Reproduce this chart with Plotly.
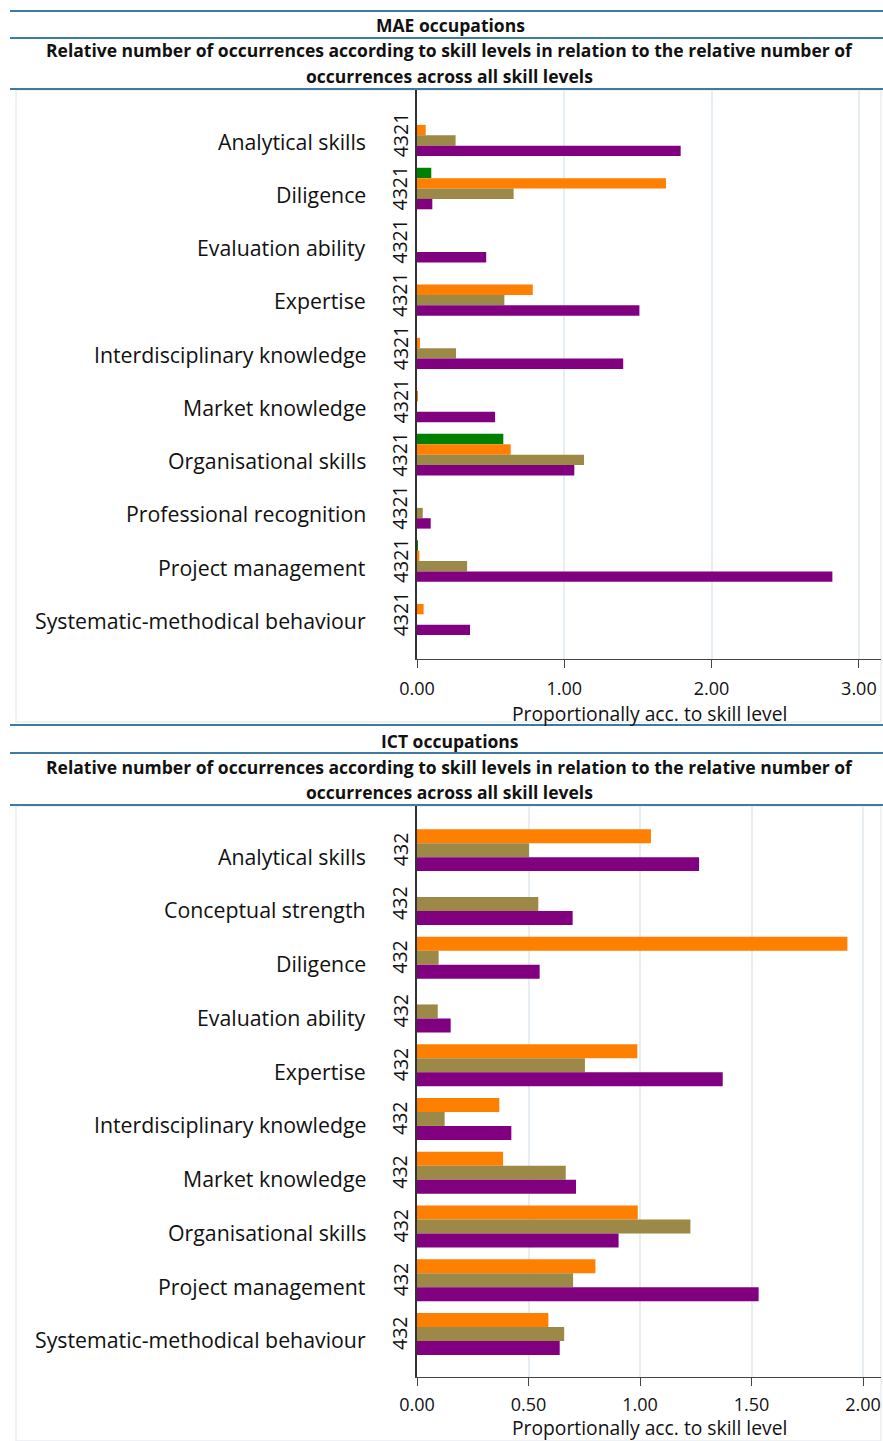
import plotly.graph_objects as go
from plotly.subplots import make_subplots

# ---- data -------------------------------------------------------------
mae_skills = [
    "Analytical skills", "Diligence", "Evaluation ability", "Expertise",
    "Interdisciplinary knowledge", "Market knowledge", "Organisational skills",
    "Professional recognition", "Project management",
    "Systematic-methodical behaviour",
]
mae_level1 = [0.0, 0.097, 0.0, 0.0, 0.0, 0.0, 0.586, 0.0, 0.005, 0.0]
mae_level2 = [0.059, 1.69, 0.0, 0.786, 0.02, 0.005, 0.636, 0.0, 0.016, 0.045]
mae_level3 = [0.262, 0.656, 0.0, 0.593, 0.265, 0.0, 1.134, 0.039, 0.34, 0.0]
mae_level4 = [1.79, 0.104, 0.47, 1.51, 1.40, 0.53, 1.068, 0.093, 2.82, 0.36]

ict_skills = [
    "Analytical skills", "Conceptual strength", "Diligence", "Evaluation ability",
    "Expertise", "Interdisciplinary knowledge", "Market knowledge",
    "Organisational skills", "Project management",
    "Systematic-methodical behaviour",
]
ict_level2 = [1.049, 0.0, 1.93, 0.0, 0.988, 0.369, 0.386, 0.99, 0.80, 0.589]
ict_level3 = [0.502, 0.544, 0.097, 0.093, 0.753, 0.124, 0.667, 1.226, 0.70, 0.66]
ict_level4 = [1.265, 0.698, 0.55, 0.151, 1.371, 0.423, 0.713, 0.904, 1.532, 0.64]

mae_ticks = [0, 1, 2, 3]
ict_ticks = [0, 0.5, 1, 1.5, 2]
x_title = "Proportionally acc. to skill level"

# ---- style ------------------------------------------------------------
W, H = 883, 1441
FONT = "Open Sans"
COL = {1: "#008000", 2: "#ff7f00", 3: "#9c8847", 4: "#800080"}
RULE = "#3f7aa0"
GRID = "#e6eef4"


def py(v):
    """pixel row -> paper y"""
    return 1 - v / H


def px(v):
    return v / W


fig = make_subplots(rows=2, cols=1)

for lvl, vals in [(1, mae_level1), (2, mae_level2), (3, mae_level3), (4, mae_level4)]:
    fig.add_trace(go.Bar(y=mae_skills, x=vals, orientation="h", name=str(lvl),
                         marker=dict(color=COL[lvl], line=dict(width=0)),
                         showlegend=False), row=1, col=1)
for lvl, vals in [(2, ict_level2), (3, ict_level3), (4, ict_level4)]:
    fig.add_trace(go.Bar(y=ict_skills, x=vals, orientation="h", name=str(lvl),
                         marker=dict(color=COL[lvl], line=dict(width=0)),
                         showlegend=False), row=2, col=1)

x_dom = [px(417), px(881)]
common_x = dict(showline=True, linecolor="#444", linewidth=1.3, ticks="outside",
                ticklen=8, tickcolor="#444", tickformat=".2f", showgrid=True,
                gridcolor=GRID, gridwidth=1.5, zeroline=False, automargin=False,
                tickfont=dict(family=FONT, size=18, color="#111"))
common_y = dict(showticklabels=False, showline=True, linecolor="#333", linewidth=1.5,
                ticks="", showgrid=False, zeroline=False, type="category",
                automargin=False)
fig.update_layout(
    autosize=False,
    xaxis=dict(domain=x_dom, range=[0, (881 - 417) / 147.3], tickvals=mae_ticks,
               ticklabelstandoff=5, **common_x),
    xaxis2=dict(domain=x_dom, range=[0, (881 - 417) / 223.0], tickvals=ict_ticks,
                ticklabelstandoff=3, **common_x),
    yaxis=dict(domain=[py(659), py(89)], range=[9.84, -0.87],
               categoryorder="array", categoryarray=mae_skills, **common_y),
    yaxis2=dict(domain=[py(1377), py(805)], range=[9.80, -0.84],
                categoryorder="array", categoryarray=ict_skills, **common_y),
    barmode="group",
    bargap=0.22,
    bargroupgap=0,
    width=W, height=H,
    margin=dict(l=0, r=0, t=0, b=0, pad=0, autoexpand=False),
    paper_bgcolor="white", plot_bgcolor="white",
    font=dict(family=FONT, color="#111"),
)

ann = []
shapes = []

# category labels and the rotated level strings
for yref, skills, levels in [("y", mae_skills, "4321"), ("y2", ict_skills, "432")]:
    for s in skills:
        ann.append(dict(x=px(368), xref="paper", y=s, yref=yref, text=s,
                        xanchor="right", yanchor="middle", yshift=-6,
                        showarrow=False, font=dict(family=FONT, size=21.3, color="#111")))
        ann.append(dict(x=px(400), xref="paper", y=s, yref=yref, text=levels,
                        textangle=-90, xanchor="center", yanchor="middle",
                        showarrow=False, font=dict(family=FONT, size=19.5, color="#111")))

# x-axis titles
for y_title in [713, 1427]:
    ann.append(dict(x=px(649), y=py(y_title), xref="paper", yref="paper", text=x_title,
                    showarrow=False, xanchor="center", yanchor="middle",
                    font=dict(family=FONT, size=19.3, color="#111")))

# panel headers
HEAD = dict(family=FONT, size=17.5, color="#111")
for title, y_t, y_s1, y_s2 in [("MAE occupations", 25, 50, 76),
                               ("ICT occupations", 741, 767, 792)]:
    ann.append(dict(x=px(450), y=py(y_t), xref="paper", yref="paper", text=f"<b>{title}</b>",
                    showarrow=False, xanchor="center", yanchor="middle", font=HEAD))
    ann.append(dict(x=px(449), y=py(y_s1), xref="paper", yref="paper",
                    text="<b>Relative number of occurrences according to skill levels in relation to the relative number of</b>",
                    showarrow=False, xanchor="center", yanchor="middle", font=HEAD))
    ann.append(dict(x=px(449), y=py(y_s2), xref="paper", yref="paper",
                    text="<b>occurrences across all skill levels</b>",
                    showarrow=False, xanchor="center", yanchor="middle", font=HEAD))

# blue header rules
for yy in [11, 38, 89, 725, 753, 805]:
    shapes.append(dict(type="line", xref="paper", yref="paper", x0=px(10), x1=1,
                       y0=py(yy), y1=py(yy), line=dict(color=RULE, width=2.2)))

# light panel frames
for y0, y1 in [(90, 722), (806, 1441)]:
    shapes.append(dict(type="rect", xref="paper", yref="paper", x0=px(16), x1=px(881),
                       y0=py(y1), y1=py(y0), line=dict(color="#e9eef2", width=1.5),
                       layer="below"))

fig.update_layout(annotations=ann, shapes=shapes)
fig.write_html("out.html")
